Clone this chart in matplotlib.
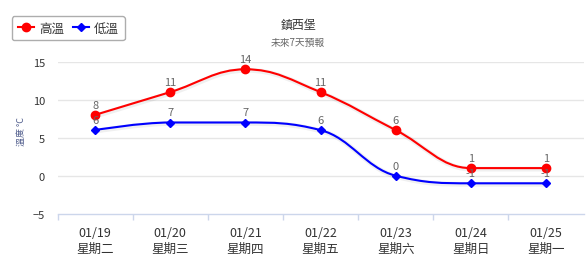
import matplotlib
matplotlib.use("Agg")
import matplotlib.pyplot as plt
from matplotlib.path import Path
from matplotlib.patches import PathPatch
from matplotlib.lines import Line2D

plt.rcParams['font.family'] = ['Noto Sans CJK TC', 'DejaVu Sans']

dates = ["01/19", "01/20", "01/21", "01/22", "01/23", "01/24", "01/25"]
weekdays = ["星期二", "星期三", "星期四", "星期五", "星期六", "星期日", "星期一"]
high = [8, 11, 14, 11, 6, 1, 1]
low = [6, 7, 7, 6, 0, -1, -1]
yticks = [-5, 0, 5, 10, 15]
title = "鎮西堡"
subtitle = "未來7天預報"
series_names = ["高溫", "低溫"]
ylabel = "溫度 °C"


def spline_path(xs, ys):
    n = len(xs)
    lc = [None] * n
    rc = [None] * n
    s, d = 1.5, 2.5
    for i in range(1, n - 1):
        px, py = xs[i], ys[i]
        lx, ly = xs[i - 1], ys[i - 1]
        nx, ny = xs[i + 1], ys[i + 1]
        lcx = (s * px + lx) / d
        lcy = (s * py + ly) / d
        rcx = (s * px + nx) / d
        rcy = (s * py + ny) / d
        if rcx != lcx:
            corr = ((rcy - lcy) * (rcx - px)) / (rcx - lcx) + py - rcy
            lcy += corr
            rcy += corr
        if lcy > ly and lcy > py:
            lcy = max(ly, py)
            rcy = 2 * py - lcy
        elif lcy < ly and lcy < py:
            lcy = min(ly, py)
            rcy = 2 * py - lcy
        if rcy > ny and rcy > py:
            rcy = max(ny, py)
            lcy = 2 * py - rcy
        elif rcy < ny and rcy < py:
            rcy = min(ny, py)
            lcy = 2 * py - rcy
        lc[i] = (lcx, lcy)
        rc[i] = (rcx, rcy)
    verts = [(xs[0], ys[0])]
    codes = [Path.MOVETO]
    for i in range(1, n):
        c1 = rc[i - 1] if rc[i - 1] is not None else (xs[i - 1], ys[i - 1])
        c2 = lc[i] if lc[i] is not None else (xs[i], ys[i])
        verts += [c1, c2, (xs[i], ys[i])]
        codes += [Path.CURVE4] * 3
    return Path(verts, codes)


fig = plt.figure(figsize=(5.88, 2.55), dpi=100)
ax = fig.add_axes([57.5 / 588, 1 - 214.7 / 255, 526 / 588, 152 / 255])
ax.set_xlim(-0.5, len(dates) - 0.5)
ax.set_ylim(-5, 15)

for sp in ["top", "right", "left"]:
    ax.spines[sp].set_visible(False)
ax.spines["bottom"].set_color("#ccd6eb")
ax.spines["bottom"].set_linewidth(1)

ax.set_yticks(yticks)
ax.set_yticklabels(["\u22125" if v < 0 else str(v) for v in yticks])
ax.tick_params(axis="y", length=0, pad=9, labelsize=8, labelcolor="#333333")
for v in yticks[1:]:
    ax.axhline(v, color="#e6e6e6", lw=1, zorder=0)

xs = list(range(len(dates)))
ax.set_xticks([i + 0.5 for i in xs[:-1]] + [-0.5])
ax.set_xticklabels([])
ax.tick_params(axis="x", length=4, color="#ccd6eb", width=1)
for i in xs:
    ax.text(i, -0.08, dates[i], transform=ax.get_xaxis_transform(), ha="center", va="top",
            fontsize=9, color="#333333")
    ax.text(i, -0.185, weekdays[i], transform=ax.get_xaxis_transform(), ha="center", va="top",
            fontsize=9, color="#333333")

colors = ["#ff0000", "#0000ff"]
markers = ["o", "D"]
msizes = [6, 4.5]
for vals, c, m, ms in zip([high, low], colors, markers, msizes):
    p = spline_path(xs, vals)
    shadow = PathPatch(p, facecolor="none", edgecolor="#000000", lw=3.5, alpha=0.06,
                       transform=ax.transData + matplotlib.transforms.ScaledTranslation(1 / 100, -1 / 100, fig.dpi_scale_trans))
    ax.add_patch(shadow)
    ax.add_patch(PathPatch(p, facecolor="none", edgecolor=c, lw=1.5, zorder=3))
    ax.plot(xs, vals, linestyle="none", marker=m, color=c, markersize=ms, zorder=4)
    for x, v in zip(xs, vals):
        ax.annotate(str(v), (x, v), xytext=(0, 5), textcoords="offset pixels",
                    ha="center", va="bottom", fontsize=8, color="#666666", zorder=5)

fig.text(0.507, 1 - 25 / 255, title, ha="center", va="center", fontsize=8.6, color="#333333")
fig.text(0.507, 1 - 43 / 255, subtitle, ha="center", va="center", fontsize=7, color="#666666")
fig.text(22 / 588, 1 - 132 / 255, ylabel, rotation=90, ha="center", va="center",
         fontsize=6.5, color="#4d5a8a")

handles = [Line2D([], [], color=colors[0], marker="o", lw=1.5, markersize=6),
           Line2D([], [], color=colors[1], marker="D", lw=1.5, markersize=4.5)]
leg = fig.legend(handles, series_names, loc="upper left", bbox_to_anchor=(12 / 588, 1 - 17 / 255),
                 borderaxespad=0, ncol=2, frameon=True, fontsize=9, handlelength=1.3,
                 handletextpad=0.4, columnspacing=0.7, borderpad=0.45, fancybox=True,
                 labelcolor="#333333")
leg.get_frame().set_edgecolor("#999999")
leg.get_frame().set_linewidth(1)

fig.savefig("out.png", dpi=100)
